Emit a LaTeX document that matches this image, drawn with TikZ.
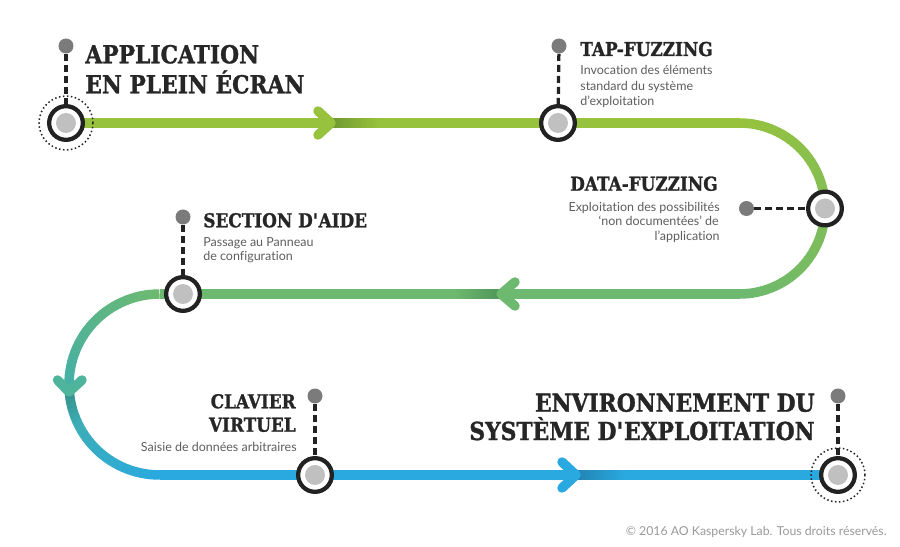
\documentclass[tikz,border=0pt]{standalone}
\usepackage{fontspec}
\setmainfont{Lato}[Ligatures={NoCommon}]
\newfontfamily\titlefont{DejaVu Serif}[FakeStretch=0.88, FakeBold=1.2]
\usepackage{xcolor}
\usetikzlibrary{calc,backgrounds}
\definecolor{trackA}{HTML}{96C23D}
\definecolor{trackAdark}{HTML}{6F9830}
\definecolor{trackB}{HTML}{6DB96F}
\definecolor{trackBdark}{HTML}{4F945A}
\definecolor{trackC}{HTML}{44B0A8}
\definecolor{arrowC}{HTML}{4EB49C}
\definecolor{trackD}{HTML}{29A9E0}
\definecolor{trackDdark}{HTML}{2383B2}
\definecolor{ringcol}{HTML}{222222}
\definecolor{stopgrey}{HTML}{C0C0C0}
\definecolor{dotgrey}{HTML}{7B7B7B}
\definecolor{headcol}{HTML}{262626}
\definecolor{bodycol}{HTML}{5E5E5E}
\definecolor{copycol}{HTML}{9A9A9A}

\begin{document}
\begin{tikzpicture}[x=0.02cm, y=-0.02cm,
  track/.style={line width=0.19cm},
  chevron/.style={line width=0.19cm, line cap=round, line join=round},
  stationring/.style={circle, draw=ringcol, line width=0.085cm, fill=white, minimum size=0.674cm, inner sep=0pt,
    path picture={\fill[stopgrey] (path picture bounding box.center) circle (0.2cm);}},
  markdot/.style={circle, fill=dotgrey, minimum size=0.3cm, inner sep=0pt},
  leader/.style={draw=ringcol, line width=0.065cm, dash pattern=on 0.14cm off 0.08cm},
  halo/.style={circle, draw=ringcol, line width=0.03cm, dash pattern=on 0.03cm off 0.05cm, minimum size=1.08cm, inner sep=0pt},
  bighead/.style={inner sep=0pt, text=headcol, font=\titlefont\bfseries\fontsize{14.1}{17}\selectfont},
  head/.style={inner sep=0pt, text=headcol, font=\titlefont\bfseries\fontsize{10.9}{12}\selectfont},
  body/.style={inner sep=0pt, text=bodycol, font=\fontsize{7.1}{8}\selectfont}]

  \useasboundingbox (0,0) rectangle (900,547);

  \coordinate (rc) at (739.5,208.5);
  \coordinate (lc) at (159.5,384.5);

  \node [stationring] (s1) at (66,123) {};
  \node [stationring] (s2) at (558,123) {};
  \node [stationring] (s3) at (825,208.5) {};
  \node [stationring] (s4) at (183,294) {};
  \node [stationring] (s5) at (315,475) {};
  \node [stationring] (s6) at (838,475) {};
  \node [halo] (h1) at (66,123) {};
  \node [halo] (h6) at (838,475) {};

  \node [markdot] (d1) at (66,46) {};
  \node [markdot] (d2) at (559,46) {};
  \node [markdot] (d3) at (746.5,208.5) {};
  \node [markdot] (d4) at (183,217) {};
  \node [markdot] (d5) at (315,396) {};
  \node [markdot] (d6) at (838,396) {};

  \draw [leader] (d1) -- (s1);
  \draw [leader] (d2) -- (s2);
  \draw [leader] (d3) -- (s3);
  \draw [leader] (d4) -- (s4);
  \draw [leader] (d5) -- (s5);
  \draw [leader] (d6) -- (s6);

  \begin{scope}[on background layer]
    \fill [white] (0,0) rectangle (900,547);
    \draw [track, trackA] (s1.center) -- (s1 -| rc);
    \foreach \i in {0,...,59} {
      \pgfmathsetmacro\a{-90+3*\i}
      \pgfmathsetmacro\p{100-\i*100/59}
      \colorlet{segcol}{trackA!\p!trackB}
      \draw [track, segcol] (rc) ++(\a:85.5) arc [start angle=\a, delta angle=3.4, radius=85.5];
    }
    \draw [track, trackB] (rc |- s4) -- (lc |- s4);
    \foreach \i in {0,...,59} {
      \pgfmathsetmacro\a{-90-3*\i}
      \ifnum\i<30
        \pgfmathsetmacro\p{100-\i*100/30}
        \colorlet{segcol}{trackB!\p!trackC}
      \else
        \pgfmathsetmacro\p{100-(\i-30)*100/29}
        \colorlet{segcol}{trackC!\p!trackD}
      \fi
      \pgfmathsetmacro\q{100-(\i>=32)*(\i<=38)*(16-(\i-32)*2.5)}
      \colorlet{segcol}{segcol!\q!black}
      \draw [track, segcol] (lc) ++(\a:90.5) arc [start angle=\a, delta angle=-3.4, radius=90.5];
    }
    \draw [track, trackD] (lc |- s6) -- (s6.center);

    \shade [left color=trackAdark, right color=trackA] (331,118.25) rectangle (378,127.75);
    \shade [left color=trackB, right color=trackBdark] (455,289.25) rectangle (501,298.75);
    \shade [left color=trackDdark, right color=trackD] (576,470.25) rectangle (625,479.75);

    \draw [chevron, trackA] (318,111) -- (331,123) -- (318,135);
    \draw [chevron, trackB] (515,282) -- (501,294) -- (515,306);
    \draw [chevron, arrowC] (57.5,380) -- (69,392) -- (82,380);
    \draw [chevron, trackD] (562,462) -- (576,475) -- (562,488);
  \end{scope}

  \node [bighead, anchor=base west] (t1) at (85,63.3) {APPLICATION};
  \node [bighead, anchor=base west] (t2) at (85,93.3) {EN PLEIN ÉCRAN};

  \node [head, anchor=base west] (t3) at (580,56) {TAP-FUZZING};
  \node [body, anchor=base west] (b31) at (580,75) {Invocation des éléments};
  \node [body, anchor=base west] (b32) at (580,90.5) {standard du système};
  \node [body, anchor=base west] (b33) at (580,106) {d’exploitation};

  \node [head, anchor=base east] (t4) at (718,190.7) {DATA-FUZZING};
  \node [body, anchor=base east] (b41) at (720,211.7) {Exploitation des possibilités};
  \node [body, anchor=base east] (b42) at (719,226) {‘non documentées’ de};
  \node [body, anchor=base east] (b43) at (720,240.5) {l’application};

  \node [head, anchor=base west] (t5) at (203,227.3) {SECTION D\textquotesingle AIDE};
  \node [body, anchor=base west] (b51) at (203,246.5) {Passage au Panneau};
  \node [body, anchor=base west] (b52) at (203,261) {de configuration};

  \node [head, anchor=base east] (t6) at (296,408.3) {CLAVIER};
  \node [head, anchor=base east] (t7) at (296,431.7) {VIRTUEL};
  \node [body, anchor=base east] (b71) at (297,451.7) {Saisie de données arbitraires};

  \node [bighead, anchor=base east] (t8) at (815,411.7) {ENVIRONNEMENT DU};
  \node [bighead, anchor=base east] (t9) at (815,440) {SYSTÈME D\textquotesingle EXPLOITATION};

  \node [anchor=base east, inner sep=0pt, text=copycol, font=\fontsize{7}{8}\selectfont] (c1) at (887,535) {© 2016 AO Kaspersky Lab. Tous droits réservés.};

\end{tikzpicture}
\end{document}
